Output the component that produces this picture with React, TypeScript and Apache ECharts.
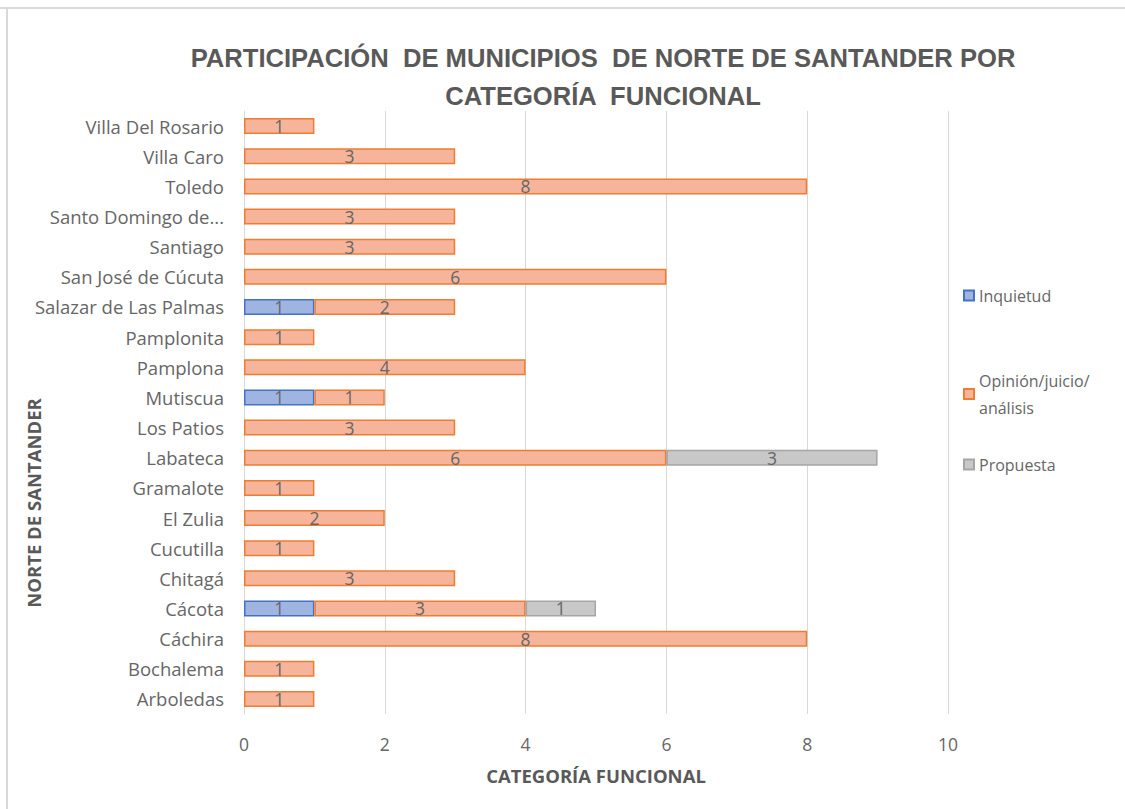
import React, { useEffect, useRef } from "react";
import * as echarts from "echarts";

const categories = [
  "Arboledas", "Bochalema", "Cáchira", "Cácota", "Chitagá", "Cucutilla", "El Zulia",
  "Gramalote", "Labateca", "Los Patios", "Mutiscua", "Pamplona", "Pamplonita",
  "Salazar de Las Palmas", "San José de Cúcuta", "Santiago", "Santo Domingo de...",
  "Toledo", "Villa Caro", "Villa Del Rosario",
];
const inquietud = [null, null, null, 1, null, null, null, null, null, null, 1, null, null, 1, null, null, null, null, null, null];
const opinion = [1, 1, 8, 3, 3, 1, 2, 1, 6, 3, 1, 4, 1, 2, 6, 3, 3, 8, 3, 1];
const propuesta = [null, null, null, 1, null, null, null, null, 3, null, null, null, null, null, null, null, null, null, null, null];
const xTicks = [0, 2, 4, 6, 8, 10];

const seriesNames = ["Inquietud", "Opinión/juicio/análisis", "Propuesta"];
const TXT = "#595959";
const LBL = "#666666";
const FONT = "Open Sans, sans-serif";
const TFONT = "Liberation Sans, sans-serif";

export default function App() {
  const ref = useRef<HTMLDivElement>(null);
  useEffect(() => {
    const chart = echarts.init(ref.current!, null, { renderer: "svg" });
    const label = {
      show: true,
      position: "inside",
      color: LBL,
      fontSize: 17.5,
      fontFamily: FONT,
    };
    const mk = (name: string, data: any[], fill: string, border: string) => ({
      name,
      type: "bar",
      stack: "total",
      data,
      barWidth: 16,
      itemStyle: { color: fill, borderColor: border, borderWidth: 1.5 },
      label,
    });
    chart.setOption({
      animation: false,
      backgroundColor: "#fff",
      title: {
        text: "PARTICIPACIÓN  DE MUNICIPIOS  DE NORTE DE SANTANDER POR\nCATEGORÍA  FUNCIONAL",
        left: 598,
        textAlign: "center",
        top: 34,
        textStyle: {
          color: TXT,
          fontSize: 25.6,
          fontWeight: "bold",
          fontFamily: TFONT,
          lineHeight: 38,
        },
      },
      legend: [
        { data: [seriesNames[0]], top: 277 },
        { data: [seriesNames[1]], top: 362, formatter: () => "Opinión/juicio/\nanálisis" },
        { data: [seriesNames[2]], top: 446 },
      ].map((l) => ({
        ...l,
        left: 958,
        orient: "vertical",
        icon: "rect",
        itemWidth: 10,
        itemHeight: 10,
        itemGap: 5,
        textStyle: { color: LBL, fontSize: 16, fontFamily: FONT, lineHeight: 27 },
      })),
      grid: { left: 244, right: 1125 - 948, top: 111, bottom: 809 - 714 },
      xAxis: {
        type: "value",
        min: 0,
        max: 10,
        interval: 2,
        name: "CATEGORÍA FUNCIONAL",
        nameLocation: "middle",
        nameGap: 52,
        nameTextStyle: { color: TXT, fontSize: 18.5, fontWeight: "bold", fontFamily: FONT },
        axisLabel: {
          color: LBL,
          fontSize: 17.5,
          fontFamily: FONT,
          margin: 21,
          formatter: (v: number) => (xTicks.includes(v) ? String(v) : ""),
        },
        axisLine: { show: false },
        axisTick: { show: false },
        splitLine: { lineStyle: { color: "#D9D9D9", width: 1 } },
      },
      yAxis: {
        type: "category",
        data: categories,
        axisLabel: { color: LBL, fontSize: 18.5, fontFamily: FONT, margin: 20 },
        axisTick: { show: false },
        axisLine: { show: true, lineStyle: { color: "#D9D9D9" } },
      },
      graphic: [
        {
          type: "text",
          x: 33,
          y: 503,
          rotation: Math.PI / 2,
          style: {
            text: "NORTE DE SANTANDER",
            fill: TXT,
            fontSize: 18.5,
            fontWeight: "bold",
            fontFamily: FONT,
            textAlign: "center",
            textVerticalAlign: "middle",
          },
        },
        { type: "line", shape: { x1: 0, y1: 8, x2: 1125, y2: 8 }, style: { stroke: "#D9D9D9", lineWidth: 2 } },
        { type: "line", shape: { x1: 7, y1: 8, x2: 7, y2: 809 }, style: { stroke: "#D9D9D9", lineWidth: 2 } },
      ],
      series: [
        mk(seriesNames[0], inquietud, "#A0B4E2", "#4472C4"),
        mk(seriesNames[1], opinion, "#F6B59B", "#ED7D31"),
        mk(seriesNames[2], propuesta, "#C8C8C8", "#A5A5A5"),
      ],
    });
    return () => chart.dispose();
  }, []);
  return (
    <div
      ref={ref}
      style={{ position: "fixed", left: 0, top: 0, width: 1125, height: 809 }}
    />
  );
}
